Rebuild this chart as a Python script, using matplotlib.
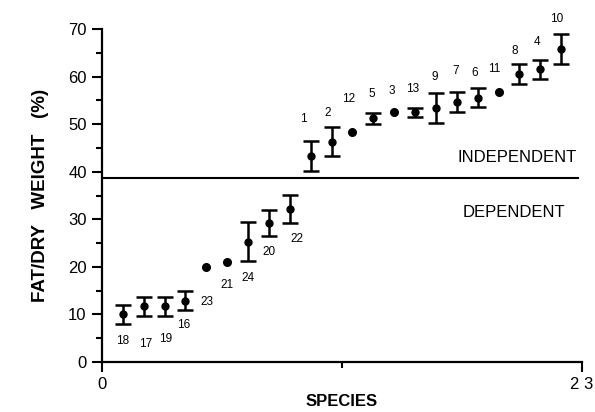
import matplotlib
matplotlib.use("Agg")
import matplotlib.pyplot as plt
from matplotlib.ticker import MultipleLocator

plt.rcParams['font.family'] = ['Liberation Sans', 'DejaVu Sans']

# Datos: especies ordenadas por su posicion en el eje x
especies = [18, 17, 19, 16, 23, 21, 24, 20, 22, 1, 2, 12, 5, 3, 13, 9, 7, 6, 11, 8, 4, 10]
grasa = [10.0, 11.7, 11.7, 12.9, 20.0, 21.1, 25.3, 29.25, 32.2, 43.35, 46.3, 48.3,
         51.2, 52.5, 52.45, 53.4, 54.65, 55.5, 56.7, 60.5, 61.5, 65.75]
error = [2.0, 2.0, 2.0, 2.0, 0.0, 0.0, 4.1, 2.75, 2.9, 3.15, 3.0, 0.0,
         1.2, 0.0, 0.85, 3.2, 2.15, 2.0, 0.0, 2.1, 2.0, 3.15]
umbral = 38.7

# Desplazamiento de cada etiqueta respecto a su punto (pixeles)
desplaz = [(0, -27), (2, -38), (1, -33), (-2, -24), (1, -35), (0, -23), (0, -36),
           (0, -29), (7, -30), (-7, 37), (-4, 29), (-4, 33), (-2, 24), (-2, 21),
           (-2, 23), (-1, 31), (-1, 31), (-3, 25), (-4, 23), (-5, 23), (-3, 27),
           (-4, 30)]

x = list(range(1, len(especies) + 1))

fig = plt.figure(figsize=(5.95, 4.12), dpi=100)
ax = fig.add_axes([102 / 595, 1 - 362 / 412, 480 / 595, 333 / 412])

# Puntos con barra de error
xe = [xi for xi, e in zip(x, error) if e > 0]
ye = [yi for yi, e in zip(grasa, error) if e > 0]
ee = [e for e in error if e > 0]
ax.errorbar(xe, ye, yerr=ee, fmt='o', color='black', markersize=5,
            elinewidth=1.8, capsize=5.5, capthick=1.8)

# Puntos sin barra de error
xs = [xi for xi, e in zip(x, error) if e == 0]
ys = [yi for yi, e in zip(grasa, error) if e == 0]
ax.plot(xs, ys, 'o', color='black', markersize=5.5)

for xi, yi, sp, (dx, dy) in zip(x, grasa, especies, desplaz):
    ax.annotate(str(sp), (xi, yi), xytext=(dx, dy), textcoords='offset pixels',
                ha='center', va='center', fontsize=8.5)

ax.plot([0, 22.8], [umbral, umbral], color='black', lw=1.5)
ax.text(22.75, 43.0, 'INDEPENDENT', ha='right', va='center', fontsize=12)
ax.text(22.2, 31.4, 'DEPENDENT', ha='right', va='center', fontsize=12)

ax.set_xlim(0, 23)
ax.set_ylim(0, 70)
ax.spines['top'].set_visible(False)
ax.spines['right'].set_visible(False)
ax.spines['left'].set_linewidth(1.6)
ax.spines['bottom'].set_linewidth(1.6)

ax.set_xticks([0, 23])
ax.set_xticks([11.5], minor=True)
ax.yaxis.set_major_locator(MultipleLocator(10))
ax.yaxis.set_minor_locator(MultipleLocator(5))
ax.tick_params(axis='both', which='major', direction='out', length=7, width=1.5,
               labelsize=12, pad=4)
ax.tick_params(axis='both', which='minor', direction='out', length=4, width=1.5)
ax.set_xticklabels(['0', '2 3'])

ax.set_ylabel('FAT/DRY   WEIGHT   (%)', fontsize=13.5, fontweight='bold', labelpad=14)
ax.set_xlabel('SPECIES', fontsize=12, fontweight='bold', labelpad=1)

plt.savefig('out.png', dpi=100)
plt.close(fig)
